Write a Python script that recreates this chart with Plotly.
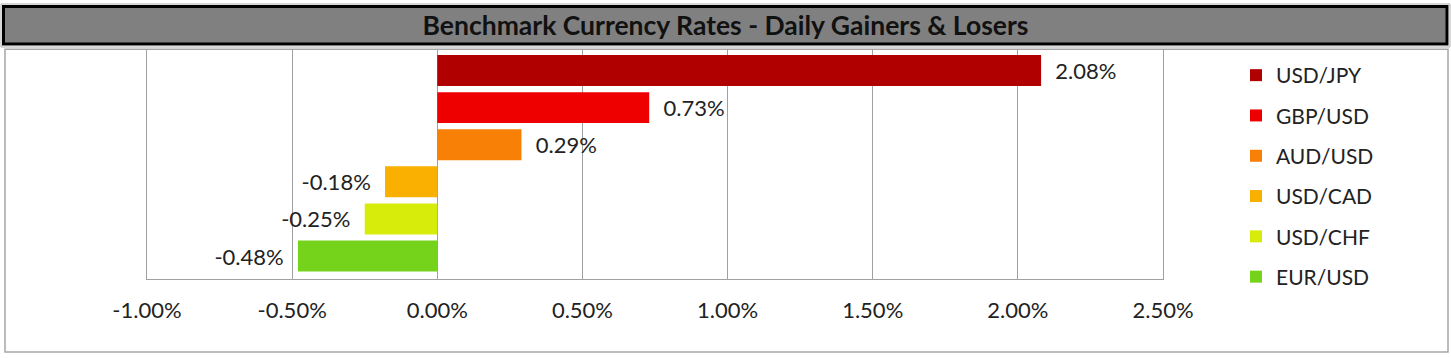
import plotly.graph_objects as go

# ---- data ----
pairs = ["USD/JPY", "GBP/USD", "AUD/USD", "USD/CAD", "USD/CHF", "EUR/USD"]
changes = [2.08, 0.73, 0.29, -0.18, -0.25, -0.48]  # daily change, %
colors = ["#B00000", "#EE0000", "#F98006", "#FAB000", "#D8EC0C", "#76D31C"]
tick_vals = [-1.0, -0.5, 0.0, 0.5, 1.0, 1.5, 2.0, 2.5]
tick_text = [f"{v:.2f}%" for v in tick_vals]
title_text = "Benchmark Currency Rates - Daily Gainers & Losers"

W, H = 1451, 358
L, R, T, B = 147, 288, 49, 79
PW, PH = W - L - R, H - T - B

def px_x(p):
    return (p - L) / PW

def px_y(p):
    return (H - B - p) / PH

FONT = "Lato"
NB = "\u00a0"

fig = go.Figure()
for name, val, col in zip(pairs, changes, colors):
    label = f"{NB*2}{val:.2f}%" if val >= 0 else f"{val:.2f}%{NB*2}"
    fig.add_trace(go.Bar(
        y=[name], x=[val], orientation="h", name=name,
        marker=dict(color=col, line=dict(width=0)),
        text=[label], textposition="outside", constraintext="none",
        textfont=dict(family=FONT, size=22, color="#222222"),
        cliponaxis=False, legendgroup=name, hoverinfo="x+name",
    ))

fig.update_layout(
    width=W, height=H,
    margin=dict(l=L, r=R, t=T, b=B),
    paper_bgcolor="white", plot_bgcolor="white",
    barmode="overlay", bargap=0.165,
    showlegend=True,
    title=dict(text=title_text, x=0.5, xref="container", xanchor="center",
               y=1 - 26 / H, yref="container", yanchor="middle",
               font=dict(family=FONT, size=26.5, color="#111111", weight="bold")),
    legend=dict(x=px_x(1236), xanchor="left", y=px_y(55), yanchor="top",
                font=dict(family=FONT, size=21, color="#222222"),
                tracegroupgap=10, traceorder="grouped", maxheight=320,
                bgcolor="rgba(0,0,0,0)", borderwidth=0),
    xaxis=dict(range=[-1.0, 2.5], tickvals=tick_vals, ticktext=tick_text,
               showgrid=True, gridcolor="#A0A0A0", gridwidth=1,
               zeroline=True, zerolinecolor="#A0A0A0", zerolinewidth=1,
               showline=True, linecolor="#A0A0A0", linewidth=1,
               ticks="", ticklabelstandoff=12,
               tickfont=dict(family=FONT, size=22, color="#222222"),
               fixedrange=True),
    yaxis=dict(categoryorder="array", categoryarray=pairs,
               range=[5.62, -0.58], showticklabels=False, showgrid=False,
               zeroline=False, showline=True, mirror=True,
               linecolor="#A0A0A0", linewidth=1, ticks="", fixedrange=True),
    shapes=[
        # outer chart frame
        dict(type="rect", xref="paper", yref="paper", layer="below",
             x0=px_x(5), x1=px_x(1448), y0=px_y(352), y1=px_y(49.3),
             line=dict(color="#A6A6A6", width=1.5), fillcolor="rgba(0,0,0,0)"),
        # title band thin outer line
        dict(type="rect", xref="paper", yref="paper",
             x0=px_x(1), x1=px_x(1450), y0=px_y(47), y1=px_y(4),
             line=dict(color="#B0B0B0", width=1), fillcolor="rgba(0,0,0,0)"),
        # title band
        dict(type="rect", xref="paper", yref="paper",
             x0=px_x(3.5), x1=px_x(1447), y0=px_y(44), y1=px_y(6.5),
             line=dict(color="#000000", width=3), fillcolor="#808080"),
    ],
)

fig.write_html(
    "out.html",
    config={"displayModeBar": False},
    post_script="document.body.style.margin='0';document.body.style.overflow='hidden';",
)
